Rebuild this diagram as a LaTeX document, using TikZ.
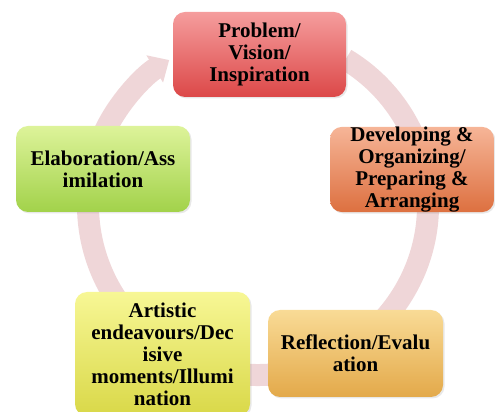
\documentclass[tikz,border=0pt]{standalone}
\usepackage{fontspec}
\setmainfont{Liberation Serif}
\usetikzlibrary{arrows.meta,shadows}
\definecolor{cycring}{HTML}{EFD6D8}
\definecolor{probtop}{HTML}{F59D9D}
\definecolor{probbot}{HTML}{DC4848}
\definecolor{devtop}{HTML}{F6B597}
\definecolor{devbot}{HTML}{DD7040}
\definecolor{elabtop}{HTML}{DDF39A}
\definecolor{elabbot}{HTML}{A2D24A}
\definecolor{arttop}{HTML}{F7F795}
\definecolor{artbot}{HTML}{D9D848}
\definecolor{refltop}{HTML}{F9DB96}
\definecolor{reflbot}{HTML}{E3A94A}
\tikzset{
  stage/.style={rounded corners=12pt, align=center, inner sep=0pt, text=black,
    font=\fontsize{21}{22}\selectfont\bfseries,
    drop shadow={opacity=0.18, shadow xshift=1.5pt, shadow yshift=-1.5pt}},
  ring/.style={line width=22pt, draw=cycring, -{Triangle[width=31pt,length=17pt]}},
}
\begin{document}
\begin{tikzpicture}[x=1pt,y=1pt]
  \useasboundingbox (0,0) rectangle (495,412);
  \coordinate (hub) at (258,207);
  % cycle ring behind the stages
  \draw[ring] ([shift={(59:170)}]hub) arc[start angle=59, end angle=-238.5, radius=170];
  % stages
  \node[stage, top color=probtop, bottom color=probbot, minimum width=173pt, minimum height=85pt]
    (prob) at (259.5,357.5) {Problem/\\Vision/\\Inspiration};
  \node[stage, top color=devtop, bottom color=devbot, minimum width=164pt, minimum height=85pt]
    (dev) at (412,242.5) {Developing \&\\Organizing/\\Preparing \&\\Arranging};
  \node[stage, top color=refltop, bottom color=reflbot, minimum width=175pt, minimum height=87pt]
    (refl) at (355.5,58.5) {Reflection/Evalu\\ation};
  \node[stage, top color=arttop, bottom color=artbot, minimum width=175pt, minimum height=124pt]
    (art) at (162.5,58) {Artistic\\endeavours/Dec\\isive\\moments/Illumi\\nation};
  \node[stage, top color=elabtop, bottom color=elabbot, minimum width=174pt, minimum height=86pt]
    (elab) at (103,243) {Elaboration/Ass\\imilation};
\end{tikzpicture}
\end{document}
